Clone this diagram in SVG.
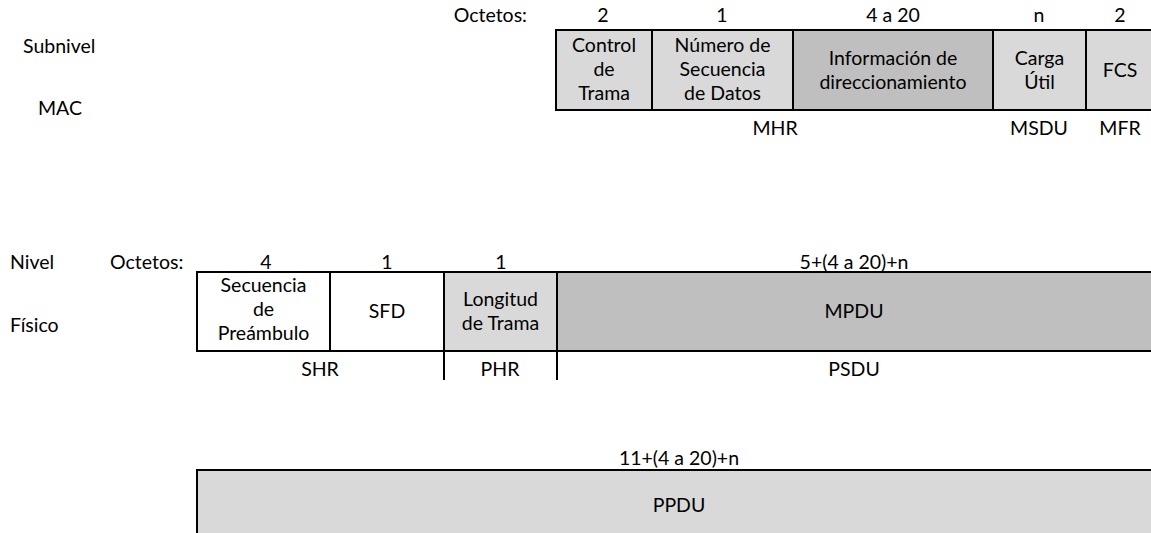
<svg xmlns="http://www.w3.org/2000/svg" width="1151" height="533" viewBox="0 0 1151 533">
<style>
text{font-family:Lato,"Open Sans","Liberation Sans",sans-serif;font-size:19.5px;fill:#000}
.c{text-anchor:middle}
.cell{stroke:#000;stroke-width:2}
.lt{fill:#d9d9d9}
.dk{fill:#bfbfbf}
.wh{fill:#fff}
.ln{stroke:#000;stroke-width:2;fill:none}
</style>
<rect width="1151" height="533" fill="#fff"/>

<g id="labels">
<text x="23" y="53">Subnivel</text>
<text x="38" y="115">MAC</text>
<text x="527" y="22" text-anchor="end">Octetos:</text>
<text x="10" y="269">Nivel</text>
<text x="10" y="332">Físico</text>
<text x="110" y="269">Octetos:</text>
</g>

<g id="mac-headers">
<text class="c" x="603" y="22">2</text>
<text class="c" x="722" y="22">1</text>
<text class="c" x="893" y="22">4 a 20</text>
<text class="c" x="1039" y="22">n</text>
<text class="c" x="1120" y="22">2</text>
</g>

<g id="control-trama">
<rect class="cell lt" x="556" y="30" width="96" height="80"/>
<text class="c" x="604" y="52">Control</text>
<text class="c" x="604" y="76">de</text>
<text class="c" x="604" y="100">Trama</text>
</g>
<g id="numero-secuencia">
<rect class="cell lt" x="652" y="30" width="141" height="80"/>
<text class="c" x="722.5" y="52">Número de</text>
<text class="c" x="722.5" y="76">Secuencia</text>
<text class="c" x="722.5" y="100">de Datos</text>
</g>
<g id="info-direccionamiento">
<rect class="cell dk" x="793" y="30" width="200" height="80"/>
<text class="c" x="893" y="65">Información de</text>
<text class="c" x="893" y="89">direccionamiento</text>
</g>
<g id="carga-util">
<rect class="cell lt" x="993" y="30" width="93" height="80"/>
<text class="c" x="1039.5" y="65">Carga</text>
<text class="c" x="1039.5" y="89">Útil</text>
</g>
<g id="fcs">
<rect class="cell lt" x="1086" y="30" width="80" height="80"/>
<text class="c" x="1120" y="77">FCS</text>
</g>

<g id="mac-footers">
<text class="c" x="775" y="135">MHR</text>
<text class="c" x="1039" y="135">MSDU</text>
<text class="c" x="1120" y="135">MFR</text>
</g>

<g id="phy-headers">
<text class="c" x="266" y="269">4</text>
<text class="c" x="387" y="269">1</text>
<text class="c" x="501" y="269">1</text>
<text class="c" x="854" y="269">5+(4 a 20)+n</text>
</g>

<g id="secuencia-preambulo">
<rect class="cell wh" x="197" y="272" width="133" height="79"/>
<text class="c" x="263.5" y="292">Secuencia</text>
<text class="c" x="263.5" y="316">de</text>
<text class="c" x="263.5" y="340">Preámbulo</text>
</g>
<g id="sfd">
<rect class="cell wh" x="330" y="272" width="114" height="79"/>
<text class="c" x="387" y="318">SFD</text>
</g>
<g id="longitud-trama">
<rect class="cell lt" x="444" y="272" width="113" height="79"/>
<text class="c" x="500.5" y="306">Longitud</text>
<text class="c" x="500.5" y="330">de Trama</text>
</g>
<g id="mpdu">
<rect class="cell dk" x="557" y="272" width="610" height="79"/>
<text class="c" x="854" y="318">MPDU</text>
</g>

<g id="connectors">
<line class="ln" x1="444" y1="351" x2="444" y2="380"/>
<line class="ln" x1="557" y1="351" x2="557" y2="380"/>
</g>

<g id="phy-footers">
<text class="c" x="320" y="376">SHR</text>
<text class="c" x="500" y="376">PHR</text>
<text class="c" x="854" y="376">PSDU</text>
</g>

<g id="ppdu">
<text class="c" x="679" y="465">11+(4 a 20)+n</text>
<rect class="cell lt" x="197" y="470" width="970" height="80"/>
<text class="c" x="679" y="512">PPDU</text>
</g>
</svg>
